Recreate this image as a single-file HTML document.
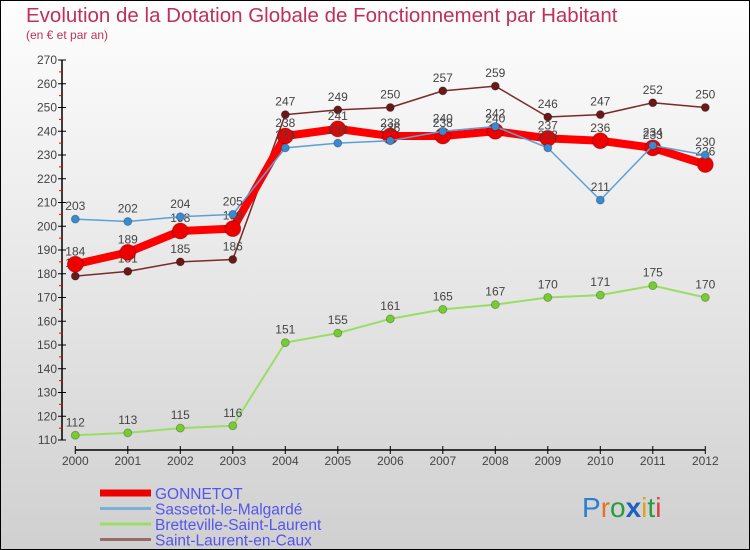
<!DOCTYPE html>
<html><head><meta charset="utf-8"><style>
body{margin:0;padding:0}
svg{display:block;font-family:"Liberation Sans",sans-serif}
</style></head><body>
<svg width="750" height="550" viewBox="0 0 750 550">
<defs><linearGradient id="bg" x1="0" y1="0" x2="0" y2="1"><stop offset="0" stop-color="#fefefe"/><stop offset="1" stop-color="#d0d0d0"/></linearGradient></defs>
<rect x="0.5" y="0.5" width="749" height="549" fill="url(#bg)" stroke="#000"/>
<text x="26" y="22" font-size="20.5" fill="#c0305a">Evolution de la Dotation Globale de Fonctionnement par Habitant</text>
<text x="26" y="39" font-size="12" fill="#c0305a">(en € et par an)</text>
<g id="axes"></g>
<g id="series"></g>
<g id="legend"></g>
<text x="582" y="517" font-size="28"><tspan fill="#2a7fd0">P</tspan><tspan fill="#e0752a">r</tspan><tspan fill="#2a9a40">o</tspan><tspan fill="#1f5fc0" font-weight="bold">x</tspan><tspan fill="#e0a020">i</tspan><tspan fill="#2a9a40">t</tspan><tspan fill="#e04040">i</tspan></text>
</svg>
<script>
const years=[2000,2001,2002,2003,2004,2005,2006,2007,2008,2009,2010,2011,2012];
const yTicks=[110,120,130,140,150,160,170,180,190,200,210,220,230,240,250,260,270];
const gonnetot=[184,189,198,199,238,241,238,238,240,237,236,233,226];
const sassetot=[203,202,204,205,233,235,236,240,242,233,211,234,230];
const bretteville=[112,113,115,116,151,155,161,165,167,170,171,175,170];
const saintLaurent=[179,181,185,186,247,249,250,257,259,246,247,252,250];
const NS="http://www.w3.org/2000/svg";
const X=i=>75.3+i*52.5;
const Y=v=>440-(v-110)*2.375;
function mk(tag,at,parent,txt){const e=document.createElementNS(NS,tag);for(const k in at)e.setAttribute(k,at[k]);if(txt!==undefined)e.textContent=txt;parent.appendChild(e);return e;}
const ax=document.getElementById('axes');
let e=mk('line',{x1:62,y1:Y(270),x2:62,y2:Y(110),stroke:'#000','stroke-width':1.5},ax);

yTicks.forEach(t=>{mk('line',{x1:58,y1:Y(t),x2:66,y2:Y(t),stroke:'#000'},ax);
 if(t<270)mk('line',{x1:59,y1:Y(t+5),x2:63,y2:Y(t+5),stroke:'#e00'},ax);
 const l=mk('text',{x:57,y:Y(t)+4,'font-size':12,fill:'#444','text-anchor':'end'},ax,String(t));
 });
e=mk('line',{x1:X(0),y1:450,x2:X(12),y2:450,stroke:'#000','stroke-width':1.5},ax);

years.forEach((y,i)=>{mk('line',{x1:X(i),y1:446,x2:X(i),y2:454,stroke:'#000'},ax);
 const l=mk('text',{x:X(i),y:465,'font-size':12,fill:'#444','text-anchor':'middle'},ax,String(y));
 });
const S=document.getElementById('series');
function draw(name,data,color,w,r,pc){
 const g=mk('g',{},S);
 mk('polyline',{points:data.map((v,i)=>X(i)+','+Y(v)).join(' '),fill:'none',stroke:color,'stroke-width':w,'stroke-linejoin':'round'},g);
 data.forEach((v,i)=>{const c=mk('circle',{cx:X(i),cy:Y(v),r:r,fill:pc,stroke:'rgba(0,0,0,0.25)'},g);
  
  const t=mk('text',{x:X(i),y:Y(v)-9,'font-size':12,fill:'#444','text-anchor':'middle'},g,String(v));
  });
}
draw('bretteville',bretteville,'#99dd66',2,4,'#77cc33');
draw('saint-laurent',saintLaurent,'#7a2a2a',1.5,4,'#6a1818');
draw('gonnetot',gonnetot,'#ff0000',8,8,'#ee0000');
draw('sassetot',sassetot,'#5aa0d8',1.5,4,'#3a8ad0');
const L=document.getElementById('legend');
[['GONNETOT','#ee0000',7],['Sassetot-le-Malgardé','#7ab0d8',3],['Bretteville-Saint-Laurent','#99dd66',3],['Saint-Laurent-en-Caux','#9a6a6a',3]].forEach((d,i)=>{
 const g=mk('g',{},L);
 const yy=493+i*15.5;
 mk('line',{x1:100,y1:yy,x2:151,y2:yy,stroke:d[1],'stroke-width':d[2]},g);
 mk('text',{x:155,y:yy+6,'font-size':15.5,fill:'#5555ee'},g,d[0]);
});
</script>
</body></html>
